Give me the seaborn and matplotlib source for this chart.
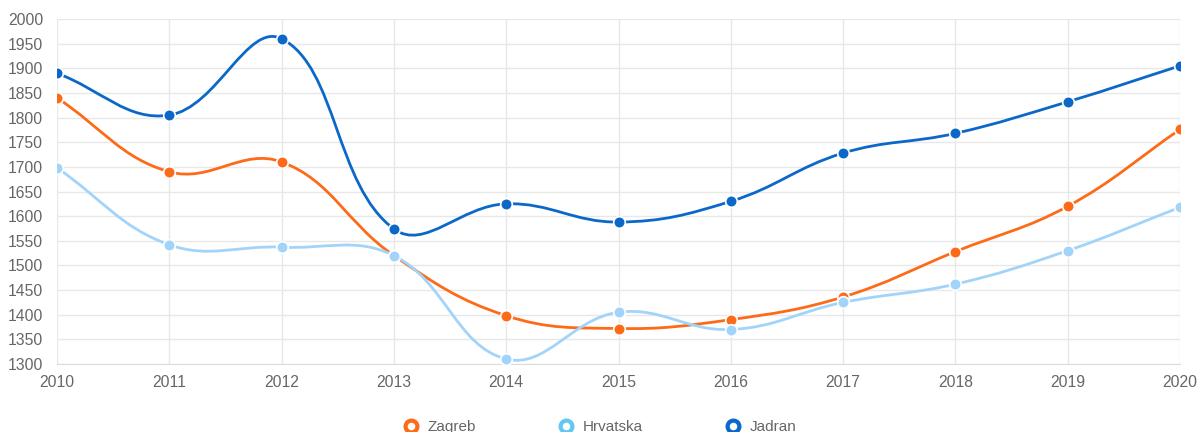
import numpy as np
import pandas as pd
import matplotlib
matplotlib.use('Agg')
import matplotlib.pyplot as plt
from matplotlib.path import Path
from matplotlib.patches import PathPatch
from matplotlib.lines import Line2D
import seaborn as sns

sns.set_style("white")
plt.rcParams['font.family'] = ['Liberation Sans', 'DejaVu Sans']

years = [2010, 2011, 2012, 2013, 2014, 2015, 2016, 2017, 2018, 2019, 2020]
zagreb = [1840, 1690, 1710, 1520, 1398, 1372, 1390, 1436, 1528, 1620, 1776]
hrvatska = [1698, 1542, 1537, 1520, 1310, 1405, 1370, 1425, 1462, 1530, 1618]
jadran = [1890, 1805, 1960, 1574, 1625, 1588, 1630, 1728, 1768, 1832, 1905]

names = ['Zagreb', 'Hrvatska', 'Jadran']
colors = {'Zagreb': '#FD6B19', 'Hrvatska': '#A2D4FA', 'Jadran': '#0B68C9'}
legend_colors = {'Zagreb': '#FD6B19', 'Hrvatska': '#63C7F3', 'Jadran': '#0B68C9'}

df = pd.DataFrame({'year': years * 3,
                   'value': zagreb + hrvatska + jadran,
                   'name': [n for n in names for _ in years]})

GRID = '#E8E8E8'
TXT = '#666666'

fig = plt.figure(figsize=(12, 4.32), dpi=100)
ax = fig.add_axes([57 / 1200, 1 - 364 / 432, (1180 - 57) / 1200, (364 - 19) / 432])
ax.set_xlim(2010, 2020)
ax.set_ylim(1300, 2000)


def spline_path(xs, ys, t=0.4):
    # chart.js style bezier, control points computed in pixel space
    pts = ax.transData.transform(np.column_stack([xs, ys]))
    n = len(pts)
    cps = []
    for i in range(n):
        prev = pts[i - 1] if i > 0 else pts[i]
        cur = pts[i]
        nxt = pts[i + 1] if i < n - 1 else pts[i]
        d01 = np.hypot(*(cur - prev))
        d12 = np.hypot(*(nxt - cur))
        tot = d01 + d12
        s01 = d01 / tot if tot else 0
        s12 = d12 / tot if tot else 0
        cps.append((cur - t * s01 * (nxt - prev), cur + t * s12 * (nxt - prev)))
    verts = [pts[0]]
    codes = [Path.MOVETO]
    for i in range(n - 1):
        verts += [cps[i][1], cps[i + 1][0], pts[i + 1]]
        codes += [Path.CURVE4] * 3
    verts = ax.transData.inverted().transform(np.array(verts))
    return Path(verts, codes)


for i, name in enumerate(names):
    sub = df[df['name'] == name]
    p = spline_path(sub['year'].values, sub['value'].values)
    ax.add_patch(PathPatch(p, facecolor='none', edgecolor=colors[name], lw=2.0,
                           zorder=3 + i, capstyle='round', joinstyle='round'))
    sns.scatterplot(data=sub, x='year', y='value', color=colors[name], s=70,
                    edgecolor='white', linewidth=1.2, zorder=3.5 + i, ax=ax, legend=False)

ax.set_xticks(years)
ax.set_xticklabels([str(y) for y in years])
ax.set_yticks(np.arange(1300, 2001, 50))
ax.grid(True, color=GRID, lw=1)
ax.tick_params(axis='both', length=5, color=GRID, labelcolor=TXT, labelsize=11.3)
ax.tick_params(axis='y', pad=5)
ax.tick_params(axis='x', pad=3)
for s in ax.spines.values():
    s.set_visible(False)
ax.spines['bottom'].set_visible(True)
ax.spines['bottom'].set_color('#DCDCDC')
ax.set_xlabel('')
ax.set_ylabel('')

handles = [Line2D([], [], marker='o', linestyle='none', markersize=8.5,
                  markerfacecolor='white', markeredgecolor=legend_colors[n],
                  markeredgewidth=3) for n in names]
fig.legend(handles, names, loc='center', bbox_to_anchor=(0.5, 1 - 427 / 432),
           ncol=3, frameon=False, fontsize=11, labelcolor=TXT,
           handletextpad=0.6, columnspacing=5.4, handlelength=1)

fig.savefig('out.png', dpi=100)
